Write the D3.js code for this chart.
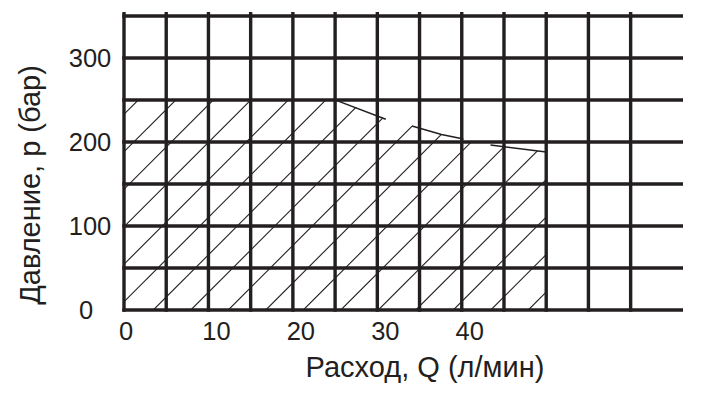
<!DOCTYPE html>
<html lang="ru">
<head>
  <meta charset="UTF-8">
  <title>Давление / расход</title>
  <script src="https://d3js.org/d3.v7.min.js"></script>
  <style>
    body { margin: 0; padding: 0; background: #fff; }
    text { font-family: "Liberation Sans", Arial, sans-serif; fill: #231f20; }
    .tick-label { font-size: 25.5px; }
    .axis-title { font-size: 29px; }
  </style>
</head>
<body>
  <div id="chart"></div>
  <script>
    // data
    const gridQ = [0, 5, 10, 15, 20, 25, 30, 35, 40, 45, 50, 55, 60];
    const gridP = [0, 50, 100, 150, 200, 250, 300, 350];
    const xTickLabels = [0, 10, 20, 30, 40];
    const yTickLabels = [0, 100, 200, 300];
    // upper edge of the hatched working range (Q, p)
    const boundary = [[0, 250], [25.3, 250], [31, 227], [34.1, 219], [37.6, 209], [40.2, 203.6], [43.4, 196.4], [50, 188]];
    // visible pieces of the limit curve
    const curveSegments = [
      [[25.3, 249], [31, 227]],
      [[34.1, 219], [37.6, 209], [40.2, 203.6]],
      [[43.4, 196.4], [50, 188]]
    ];
    const qMax = 66.2, pMax = 350;

    const width = 706, height = 402;
    const ink = "#231f20";

    const svg = d3.select("#chart").append("svg")
      .attr("width", width)
      .attr("height", height);

    const x = d3.scaleLinear().domain([0, qMax]).range([124, 683]);
    const y = d3.scaleLinear().domain([0, pMax]).range([310, 16]);

    // hatched area
    const areaPath = d3.area()
      .x(d => x(d[0]))
      .y0(y(0))
      .y1(d => y(d[1]));

    svg.append("clipPath").attr("id", "hatch-clip")
      .append("path")
      .datum(boundary)
      .attr("d", areaPath);

    const step = 37.5, phase = 463.3;
    const uVals = d3.range(phase - step * 12, phase + step * 12, step);
    svg.append("g")
      .attr("clip-path", "url(#hatch-clip)")
      .selectAll("line")
      .data(uVals)
      .join("line")
      .attr("x1", u => u - y(0))
      .attr("y1", y(0))
      .attr("x2", u => u - y(pMax))
      .attr("y2", y(pMax))
      .attr("stroke", ink)
      .attr("stroke-width", 1.1);

    // grid
    svg.append("g").selectAll("line")
      .data(gridQ)
      .join("line")
      .attr("x1", d => x(d)).attr("x2", d => x(d))
      .attr("y1", y(pMax) - 4).attr("y2", y(0) + 1.7)
      .attr("stroke", ink)
      .attr("stroke-width", 3.4);

    svg.append("g").selectAll("line")
      .data(gridP)
      .join("line")
      .attr("x1", x(0) - 1.7).attr("x2", x(qMax))
      .attr("y1", d => y(d)).attr("y2", d => y(d))
      .attr("stroke", ink)
      .attr("stroke-width", 3.4);

    // limit curve pieces
    const line = d3.line().x(d => x(d[0])).y(d => y(d[1]));
    svg.append("g").selectAll("path")
      .data(curveSegments)
      .join("path")
      .attr("d", line)
      .attr("fill", "none")
      .attr("stroke", ink)
      .attr("stroke-width", 1.5);

    // tick labels
    svg.append("g").selectAll("text")
      .data(xTickLabels)
      .join("text")
      .attr("class", "tick-label")
      .attr("x", d => x(d) + (d ? 8 : 2))
      .attr("y", 340)
      .attr("text-anchor", "middle")
      .text(d => d);

    svg.append("g").selectAll("text")
      .data(yTickLabels)
      .join("text")
      .attr("class", "tick-label")
      .attr("x", d => d ? 90 : 86)
      .attr("y", d => y(d) + 8.5)
      .attr("text-anchor", "middle")
      .text(d => d);

    // axis titles
    svg.append("text")
      .attr("class", "axis-title")
      .attr("x", 425)
      .attr("y", 377)
      .attr("text-anchor", "middle")
      .text("Расход, Q (л/мин)");

    svg.append("text")
      .attr("class", "axis-title")
      .attr("transform", "translate(40,185) rotate(-90)")
      .attr("text-anchor", "middle")
      .text("Давление, р (бар)");
  </script>
</body>
</html>
